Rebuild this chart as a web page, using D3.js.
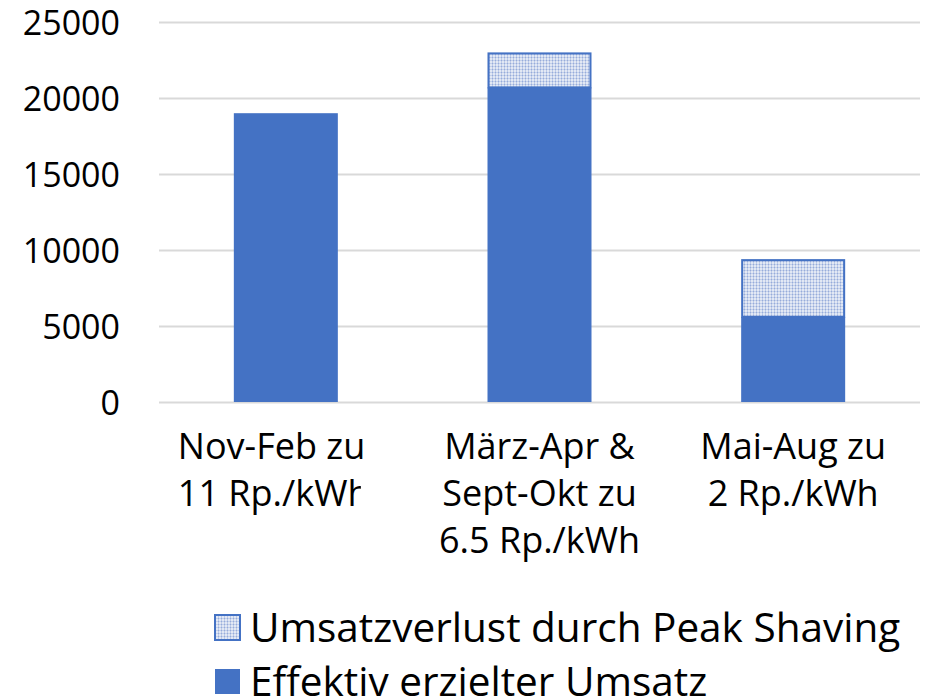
<!doctype html>
<html>
<head>
    <meta charset="utf-8">
    <title>Umsatz</title>
    <script src='https://d3js.org/d3.v7.min.js'></script>
    <style>
        body { margin: 0; background: #fff; }
        text { font-family: "Open Sans", sans-serif; fill: #000; }
    </style>
</head>
<body>
<svg></svg>
</body>
<script>

    // data
    var categories = [
        ['Nov-Feb zu', '11 Rp./kWh'],
        ['März-Apr &', 'Sept-Okt zu', '6.5 Rp./kWh'],
        ['Mai-Aug zu', '2 Rp./kWh']
    ];
    var effektiv = [19000, 20700, 5600];
    var verlust = [0, 2300, 3800];
    var yTicks = [0, 5000, 10000, 15000, 20000, 25000];
    var legendLabels = ['Umsatzverlust durch Peak Shaving', 'Effektiv erzielter Umsatz'];

    var svgWidth = 932, svgHeight = 698;
    var plotLeft = 159, plotRight = 920, plotTop = 22, plotBottom = 402;
    var blue = '#4472C4';

    var svg = d3.select('svg')
        .attr('width', svgWidth)
        .attr('height', svgHeight);

    // dotted grid fill like excel's pattern
    var defs = svg.append('defs');
    var pat = defs.append('pattern')
        .attr('id', 'dots')
        .attr('patternUnits', 'userSpaceOnUse')
        .attr('width', 3).attr('height', 3);
    pat.append('rect').attr('width', 3).attr('height', 3).attr('fill', '#e2e8f4');
    pat.append('rect').attr('width', 1).attr('height', 3).attr('fill', '#bccae8');
    pat.append('rect').attr('width', 3).attr('height', 1).attr('fill', '#c3d0ea');
    pat.append('rect').attr('width', 1).attr('height', 1).attr('fill', '#97acda');

    var xScale = d3.scaleBand()
        .domain(d3.range(categories.length))
        .range([plotLeft, plotRight])
        .paddingInner(0.59)
        .paddingOuter(0.295);

    var yScale = d3.scaleLinear()
        .domain([0, 25000])
        .range([plotBottom, plotTop]);

    // gridlines + y labels
    var y_axis = d3.axisLeft(yScale)
        .tickValues(yTicks)
        .tickSize(-(plotRight - plotLeft))
        .tickPadding(39)
        .tickFormat(d3.format('d'));

    var gAxis = svg.append('g')
        .attr('transform', 'translate(' + plotLeft + ',0)')
        .call(y_axis);
    gAxis.select('.domain').remove();
    gAxis.selectAll('line').attr('stroke', '#d9d9d9').attr('stroke-width', 2);
    gAxis.selectAll('text')
        .style('font-size', '34px')
        .style('font-family', '"Open Sans", sans-serif')
        .attr('dy', '0.36em')
        .attr('fill', '#000');

    // effektiv bars
    svg.selectAll('rect.eff')
        .data(effektiv)
        .enter()
        .append('rect')
        .attr('class', 'eff')
        .attr('x', function (d, i) { return xScale(i); })
        .attr('width', xScale.bandwidth())
        .attr('y', function (d) { return yScale(d); })
        .attr('height', function (d) { return yScale(0) - yScale(d); })
        .attr('fill', blue);

    // verlust bars stacked on top
    var lossData = verlust.map(function (v, i) { return { i: i, base: effektiv[i], v: v }; })
        .filter(function (d) { return d.v > 0; });

    svg.selectAll('rect.loss')
        .data(lossData)
        .enter()
        .append('rect')
        .attr('class', 'loss')
        .attr('x', function (d) { return xScale(d.i) + 1; })
        .attr('width', xScale.bandwidth() - 2)
        .attr('y', function (d) { return yScale(d.base + d.v) + 1; })
        .attr('height', function (d) { return yScale(d.base) - yScale(d.base + d.v) - 1; })
        .attr('fill', 'url(#dots)')
        .attr('stroke', blue)
        .attr('stroke-width', 2);

    // category labels (first one is cut off like in excel)
    var c0 = xScale(0) + xScale.bandwidth() / 2;
    var clip0 = defs.append('clipPath').attr('id', 'clip0');
    clip0.append('rect').attr('x', 0).attr('y', 400).attr('width', c0 + 90).attr('height', 70);
    clip0.append('rect').attr('x', 0).attr('y', 470).attr('width', c0 + 75).attr('height', 100);

    categories.forEach(function (lines, i) {
        var cx = xScale(i) + xScale.bandwidth() / 2;
        var clipped = (i === 0);
        var tx = clipped ? cx - 108 : cx;
        var t = svg.append('text')
            .attr('text-anchor', clipped ? 'start' : 'middle')
            .style('font-size', '36px')
            .attr('x', tx)
            .attr('y', 459);
        if (clipped) t.attr('clip-path', 'url(#clip0)');
        t.selectAll('tspan')
            .data(lines)
            .enter()
            .append('tspan')
            .attr('x', tx)
            .attr('dy', function (d, j) { return j === 0 ? 0 : 47; })
            .text(function (d) { return d; });
    });

    // legend
    var legend = svg.selectAll('g.leg')
        .data(legendLabels)
        .enter()
        .append('g')
        .attr('class', 'leg')
        .attr('transform', function (d, i) { return 'translate(215,' + (615 + i * 54) + ')'; });

    legend.append('rect')
        .attr('width', 25).attr('height', 25)
        .attr('fill', function (d, i) { return i === 0 ? 'url(#dots)' : blue; })
        .attr('stroke', function (d, i) { return i === 0 ? blue : 'none'; })
        .attr('stroke-width', 2);

    legend.append('text')
        .attr('x', 35)
        .attr('y', 27)
        .style('font-size', '40.5px')
        .text(function (d) { return d; });

</script>
</html>
